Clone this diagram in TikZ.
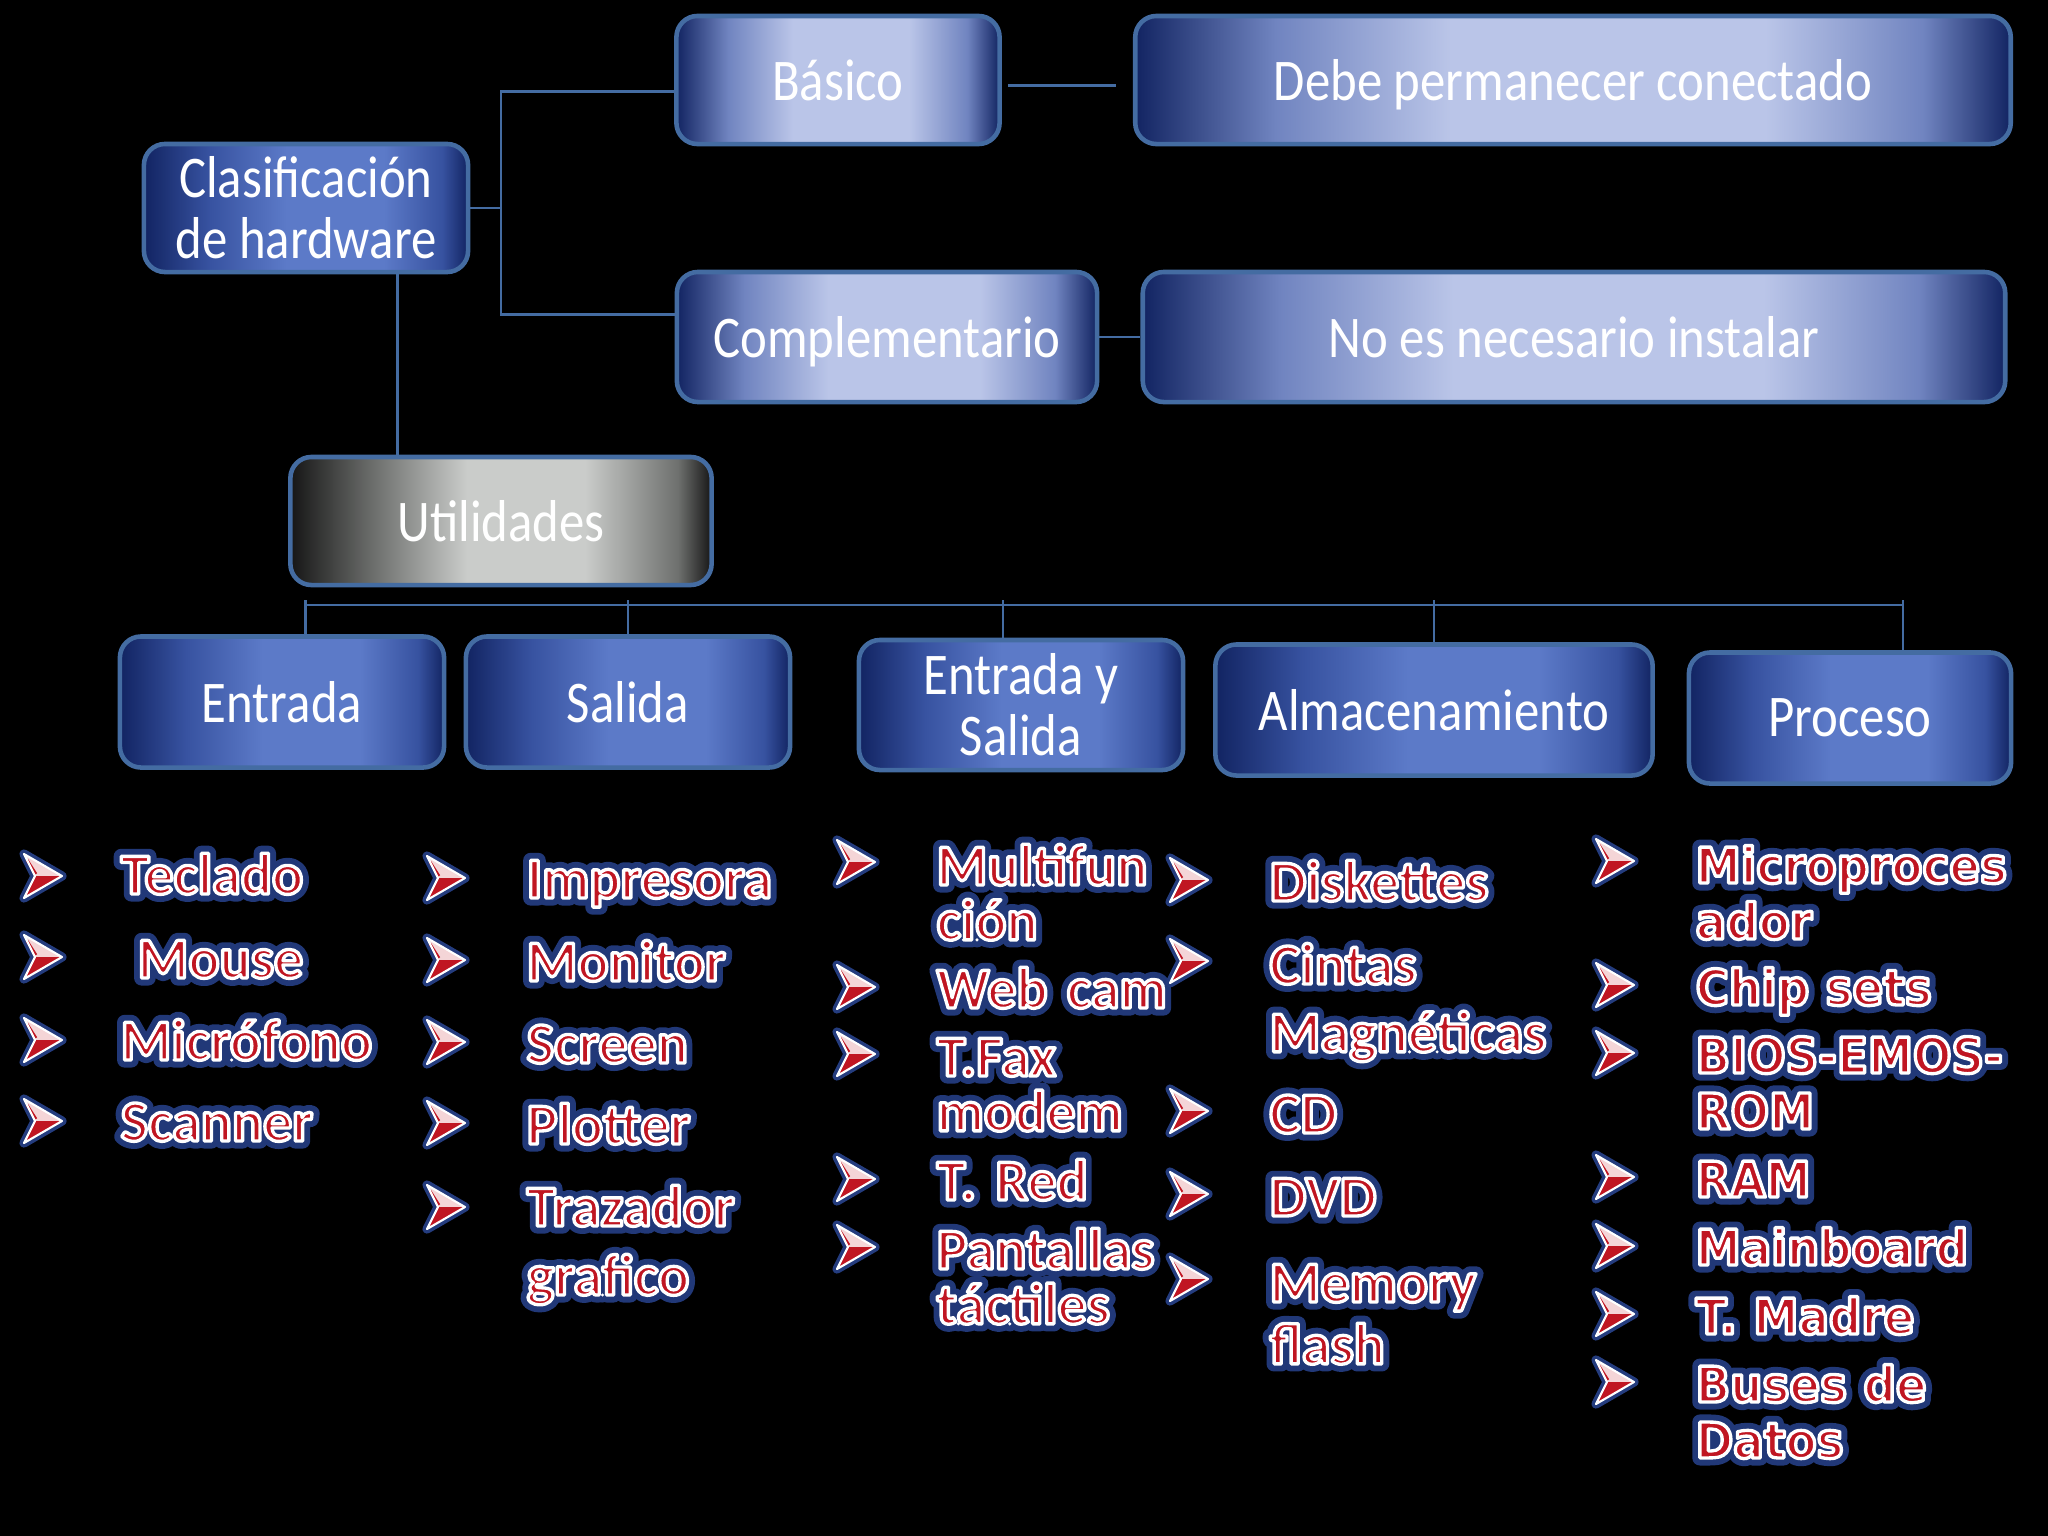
\documentclass[tikz,border=0pt]{standalone}
\usepackage{fontspec}
\setmainfont{Carlito}
\newfontfamily\boxfont[FakeStretch=0.86]{Carlito}
\newfontfamily\procfont[FakeStretch=0.92]{DejaVu Sans}
\usetikzlibrary{positioning, calc}
\definecolor{bxNavy}{RGB}{18,36,98}
\definecolor{bxMid}{RGB}{55,82,160}
\definecolor{bxBlue}{RGB}{92,122,200}
\definecolor{bxLav}{RGB}{112,132,192}
\definecolor{bxPale}{RGB}{186,197,232}
\definecolor{bxEdge}{RGB}{68,108,162}
\definecolor{gyDark}{RGB}{22,22,22}
\definecolor{gyMid}{RGB}{110,112,110}
\definecolor{gyLight}{RGB}{202,204,202}
\definecolor{listRed}{RGB}{192,22,34}
\definecolor{glowBlue}{RGB}{36,60,126}

\pgfdeclarehorizontalshading{darkbox}{100bp}{color(0bp)=(bxNavy); color(25bp)=(bxNavy); color(35bp)=(bxMid); color(47bp)=(bxBlue); color(62bp)=(bxBlue); color(71bp)=(bxMid); color(75bp)=(bxNavy); color(100bp)=(bxNavy)}
\pgfdeclarehorizontalshading{lightbox}{100bp}{color(0bp)=(bxNavy); color(25bp)=(bxNavy); color(33bp)=(bxLav); color(43bp)=(bxPale); color(61bp)=(bxPale); color(70bp)=(bxLav); color(75bp)=(bxNavy); color(100bp)=(bxNavy)}
\pgfdeclarehorizontalshading{greybox}{100bp}{color(0bp)=(gyDark); color(25bp)=(gyDark); color(35bp)=(gyMid); color(46bp)=(gyLight); color(60bp)=(gyLight); color(71bp)=(gyMid); color(75bp)=(gyDark); color(100bp)=(gyDark)}

% red list text: blue glow behind, white rim round the letters
\newcommand\gl[1]{\leavevmode
  \rlap{\special{pdf:literal direct 1 j 1 J 2 Tr 4.3 w 0.13 0.22 0.47 rg 0.13 0.22 0.47 RG}#1}%
  \special{pdf:literal direct 1 j 1 J 2 Tr 0.95 w 0.753 0.086 0.133 rg 1 1 1 RG}#1%
  \special{pdf:literal direct 0 Tr}}

\tikzset{
  hwbox/.style={rounded corners=6pt, draw=bxEdge, line width=1.3pt, text=white, align=center, inner sep=0pt,
    font=\boxfont\fontsize{16.8}{17.4}\selectfont},
  conn/.style={draw=bxEdge, line width=0.8pt},
  listitem/.style={anchor=base west, text width=3.4cm, align=left, inner sep=0pt, text=listRed,
    font=\bfseries\fontsize{16.5}{15.6}\selectfont, execute at begin node={\lineskiplimit=-100pt\relax}},
  procitem/.style={listitem, font=\procfont\bfseries\fontsize{14}{15.9}\selectfont},
  arrowmark/.pic={
    \draw[glowBlue, line width=2.6pt, line join=round] (-18,-22) -- (20,0) -- (-18,22) -- (-7,0) -- cycle;
    \fill[white!82!listRed] (-18,-22) -- (20,0) -- (-7,0) -- cycle;
    \fill[listRed] (-7,0) -- (20,0) -- (-18,22) -- cycle;
    \draw[listRed, line width=0.8pt] (-15,-16) -- (-6,-2);
    \draw[white, line width=0.6pt, line join=round] (-18,-22) -- (20,0) -- (-18,22) -- (-7,0) -- cycle;
  }
}

\begin{document}
\begin{tikzpicture}[x=0.01cm, y=-0.01cm]
  % background
  \fill[black] (0,0) rectangle (2048,1536);
  \useasboundingbox (0,0) rectangle (2048,1536);

  % classification boxes
  \node[hwbox, shading=darkbox, minimum width=3.24cm, minimum height=1.28cm] (clasif) at (306,208) {Clasificación\\de hardware};
  \node[hwbox, shading=lightbox, minimum width=3.23cm, minimum height=1.28cm] (basico) at (838,80) {Básico};
  \node[hwbox, shading=lightbox, minimum width=8.75cm, minimum height=1.28cm, text depth=0pt] (debe) at (1573,80) {Debe permanecer conectado};
  \node[hwbox, shading=lightbox, minimum width=4.2cm, minimum height=1.3cm, text depth=0pt] (compl) at (887,337) {Complementario};
  \node[hwbox, shading=lightbox, minimum width=8.62cm, minimum height=1.3cm] (noes) at (1574,337) {No es necesario instalar};
  \node[hwbox, shading=greybox, minimum width=4.21cm, minimum height=1.28cm] (util) at (501,521) {Utilidades};

  % category boxes
  \node[hwbox, shading=darkbox, minimum width=3.24cm, minimum height=1.31cm] (entrada) at (282,702) {Entrada};
  \node[hwbox, shading=darkbox, minimum width=3.24cm, minimum height=1.31cm] (salida) at (628,702) {Salida};
  \node[hwbox, shading=darkbox, minimum width=3.24cm, minimum height=1.3cm] (eys) at (1021,705) {Entrada y\\Salida};
  \node[hwbox, shading=darkbox, minimum width=4.37cm, minimum height=1.31cm] (almac) at (1434,710) {Almacenamiento};
  \node[hwbox, shading=darkbox, minimum width=3.22cm, minimum height=1.31cm] (proceso) at (1850,718) {Proceso};

  % connectors
  \coordinate (hub) at (501,205);
  \coordinate (bus) at (0,605);
  \draw[conn] (clasif.east) -- (clasif.east -| hub);
  \draw[conn] (basico.184) -- (basico.184 -| hub) -- (compl.174 -| hub) -- (compl.174);
  \draw[conn, shorten <=1.7pt, shorten >=4.8pt] (basico.-2) -- (basico.-2 -| debe.west);
  \draw[conn] (compl.east) -- (noes.west);
  \draw[conn] (clasif.-36) -- (clasif.-36 |- util.north);
  \draw[conn] (entrada.71 |- bus) -- (proceso.52 |- bus);
  \foreach \b/\a in {entrada/71, salida/90, eys/105, almac/90, proceso/52}
    \draw[conn] (\b.\a |- bus) ++(0,-5) -- (\b.\a);

  % Entrada list
  \pic at (42,876) {arrowmark};
  \node[listitem] (teclado) at (120,894) {\gl{Teclado}};
  \pic at (42,957) {arrowmark};
  \node[listitem] (mouse) at (137,978) {\gl{Mouse}};
  \pic at (42,1040) {arrowmark};
  \node[listitem] (microfono) at (120,1060) {\gl{Micrófono}};
  \pic at (42,1121) {arrowmark};
  \node[listitem] (scanner) at (120,1141) {\gl{Scanner}};

  % Salida list
  \pic at (445,878) {arrowmark};
  \node[listitem] (impresora) at (526,898) {\gl{Impresora}};
  \pic at (445,960) {arrowmark};
  \node[listitem] (monitor) at (526,981) {\gl{Monitor}};
  \pic at (445,1042) {arrowmark};
  \node[listitem] (screen) at (526,1063) {\gl{Screen}};
  \pic at (445,1123) {arrowmark};
  \node[listitem] (plotter) at (526,1144) {\gl{Plotter}};
  \pic at (445,1207) {arrowmark};
  \node[listitem] (trazador) at (526,1226) {\gl{Trazador}\\[4pt]\gl{grafico}};

  % Entrada y Salida list
  \pic at (855,862) {arrowmark};
  \node[listitem] (multifun) at (936,885) {\gl{Multifun}\\\gl{ción}};
  \pic at (855,987) {arrowmark};
  \node[listitem] (webcam) at (936,1008) {\gl{Web cam}};
  \pic at (855,1054) {arrowmark};
  \node[listitem] (tfax) at (936,1076) {\gl{T.Fax}\\\gl{modem}};
  \pic at (855,1179) {arrowmark};
  \node[listitem] (tred) at (936,1200) {\gl{T. Red}};
  \pic at (855,1247) {arrowmark};
  \node[listitem] (pantallas) at (936,1269) {\gl{Pantallas}\\\gl{táctiles}};

  % Almacenamiento list
  \pic at (1188,880) {arrowmark};
  \node[listitem] (diskettes) at (1269,901) {\gl{Diskettes}};
  \pic at (1188,961) {arrowmark};
  \node[listitem] (cintas) at (1269,984) {\gl{Cintas}\\[3.7pt]\gl{Magnéticas}};
  \pic at (1188,1111) {arrowmark};
  \node[listitem] (cd) at (1269,1133) {\gl{CD}};
  \pic at (1188,1194) {arrowmark};
  \node[listitem] (dvd) at (1269,1216) {\gl{DVD}};
  \pic at (1188,1279) {arrowmark};
  \node[listitem] (memory) at (1269,1302) {\gl{Memory}\\[2pt]\gl{flash}};

  % Proceso list
  \pic at (1614,861) {arrowmark};
  \node[procitem] (micro) at (1695,883) {\gl{Microproces}\\\gl{ador}};
  \pic at (1614,985) {arrowmark};
  \node[procitem] (chip) at (1695,1005) {\gl{Chip sets}};
  \pic at (1614,1053) {arrowmark};
  \node[procitem] (bios) at (1695,1073) {\gl{BIOS-EMOS-}\\\gl{ROM}};
  \pic at (1614,1177) {arrowmark};
  \node[procitem] (ram) at (1695,1197) {\gl{RAM}};
  \pic at (1614,1246) {arrowmark};
  \node[procitem] (mainboard) at (1695,1265) {\gl{Mainboard}};
  \pic at (1614,1314) {arrowmark};
  \node[procitem] (tmadre) at (1695,1334) {\gl{T. Madre}};
  \pic at (1614,1382) {arrowmark};
  \node[procitem] (buses) at (1695,1402) {\gl{Buses de}\\\gl{Datos}};
\end{tikzpicture}
\end{document}
